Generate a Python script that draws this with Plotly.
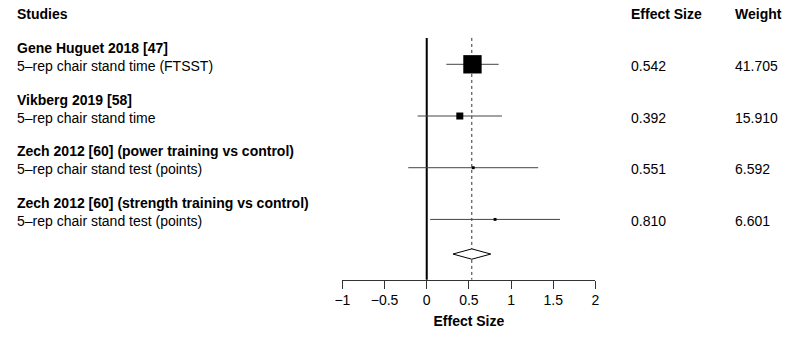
import plotly.graph_objects as go

# ---- data ----
studies = ["Gene Huguet 2018 [47]", "Vikberg 2019 [58]",
           "Zech 2012 [60] (power training vs control)",
           "Zech 2012 [60] (strength training vs control)"]
outcomes = ["5\u2013rep chair stand time (FTSST)", "5\u2013rep chair stand time",
            "5\u2013rep chair stand test (points)", "5\u2013rep chair stand test (points)"]
effect = [0.542, 0.392, 0.551, 0.810]
ci_low = [0.232, -0.108, -0.219, 0.040]
ci_high = [0.852, 0.892, 1.321, 1.580]
weight = [41.705, 15.910, 6.592, 6.601]
summary_est = 0.534
summary_low = 0.311
summary_high = 0.759
tick_vals = [-1, -0.5, 0, 0.5, 1, 1.5, 2]
tick_text = ["\u22121", "\u22120.5", "0", "0.5", "1", "1.5", "2"]

FONT = "Liberation Sans, Arial, Helvetica, sans-serif"
FS = 14
n = len(studies)
rows = list(range(n))
summary_row = n - 1 + 0.67
top_row = -0.51
axis_row = 4.165

fig = go.Figure()

# reference line at 0
fig.add_trace(go.Scatter(x=[0, 0], y=[top_row, axis_row], mode="lines",
                         line=dict(color="black", width=2), hoverinfo="skip",
                         showlegend=False, cliponaxis=False))
# dashed summary line
fig.add_trace(go.Scatter(x=[summary_est, summary_est], y=[top_row, axis_row], mode="lines",
                         line=dict(color="#333333", width=1, dash="3px,3px"), hoverinfo="skip",
                         showlegend=False, cliponaxis=False))
# confidence intervals
for i in range(n):
    fig.add_trace(go.Scatter(x=[ci_low[i], ci_high[i]], y=[rows[i], rows[i]], mode="lines",
                             line=dict(color="#444444", width=1), hoverinfo="skip",
                             showlegend=False, cliponaxis=False))
# weighted boxes
fig.add_trace(go.Scatter(x=effect, y=rows, mode="markers",
                         marker=dict(symbol="square", color="black", opacity=1,
                                     size=[w * 0.44 for w in weight], line=dict(width=0)),
                         showlegend=False, cliponaxis=False))
# summary diamond
h = 0.1
fig.add_trace(go.Scatter(x=[summary_low, summary_est, summary_high, summary_est, summary_low],
                         y=[summary_row, summary_row - h, summary_row, summary_row + h, summary_row],
                         mode="lines", fill="toself", fillcolor="white",
                         line=dict(color="black", width=1), showlegend=False,
                         hoverinfo="skip", cliponaxis=False))

ann = []
def txt(x, y, s, bold=False):
    ann.append(dict(x=x / 793, xref="paper", y=y, yref="y", text=("<b>%s</b>" % s) if bold else s,
                    showarrow=False, xanchor="left", yanchor="middle",
                    font=dict(family=FONT, size=FS, color="black")))

txt(7, -0.973, "Studies", True)
txt(631, -0.973, "Effect Size", True)
txt(736, -0.973, "Weight", True)
for i in range(n):
    txt(7, rows[i] - 0.315, studies[i], True)
    txt(7, rows[i] + 0.03, outcomes[i])
    txt(631, rows[i] + 0.03, "%.3f" % effect[i])
    txt(736, rows[i] + 0.03, "%.3f" % weight[i])

fig.update_layout(
    width=793, height=344, margin=dict(l=0, r=0, t=0, b=0),
    paper_bgcolor="white", plot_bgcolor="white",
    annotations=ann,
    xaxis=dict(domain=[339.5 / 793, 596.5 / 793], range=[-1, 2],
               tickvals=tick_vals, ticktext=tick_text,
               showline=True, linecolor="#333333", linewidth=1,
               ticks="outside", ticklen=8, tickcolor="#333333", tickwidth=1,
               showgrid=False, zeroline=False, anchor="free", position=1 - 279.5 / 344,
               tickfont=dict(family=FONT, size=FS, color="black"),
               title=dict(text="<b>Effect Size</b>", standoff=8,
                          font=dict(family=FONT, size=FS, color="black"))),
    yaxis=dict(domain=[0, 1], range=[5.41, -1.244], visible=False),
)

fig.write_html("out.html", post_script="document.body.style.margin='0';",
               config={"displayModeBar": False})
